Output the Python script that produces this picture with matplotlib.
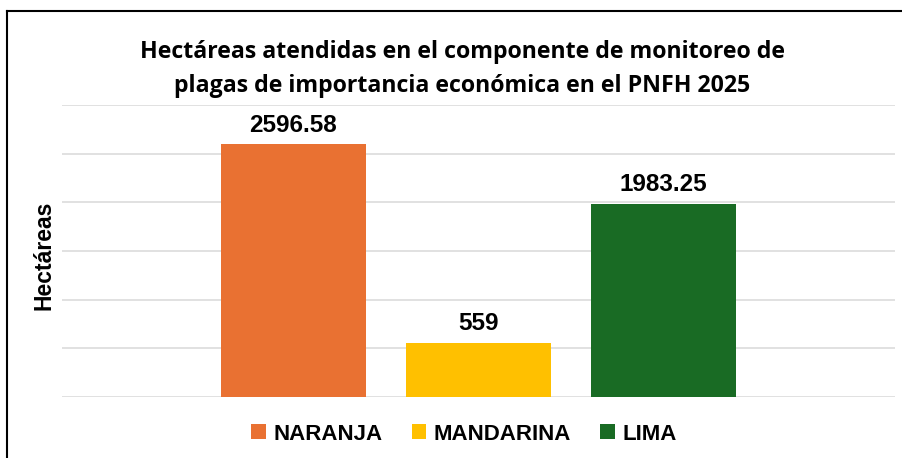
import matplotlib
matplotlib.use('Agg')
import matplotlib.pyplot as plt
from matplotlib.lines import Line2D
from matplotlib.patches import Patch

# data
categories = ['NARANJA', 'MANDARINA', 'LIMA']
hectareas = [2596.58, 559, 1983.25]
labels = ['2596.58', '559', '1983.25']
colors = ['#E97132', '#FFC000', '#196B24']

W, H = 902, 458
fig = plt.figure(figsize=(W / 100, H / 100), dpi=100)
ax = fig.add_axes([62 / W, 1 - 397 / H, (895 - 62) / W, (397 - 105) / H])

x = list(range(len(categories)))
ax.bar(x, hectareas, width=0.784, color=colors, zorder=2)

# value labels above bars
for xi, v, lab in zip(x, hectareas, labels):
    ax.annotate(lab, (xi, v), xytext=(0, 5.5), textcoords='offset points',
                ha='center', va='bottom', fontsize=17.5, fontweight='bold',
                family='Liberation Sans', color='#000000')

ax.set_xlim(-1.25, 3.25)
ax.set_ylim(0, 3000)
ax.set_yticks(range(0, 3001, 500))
ax.set_yticklabels([])
ax.set_xticks([])
ax.tick_params(length=0)
ax.yaxis.grid(True, color='#D9D9D9', linewidth=1.1, zorder=0)
for s in ax.spines.values():
    s.set_visible(False)

# y label
fig.text(44 / W, 1 - 255 / H, 'Hectáreas', rotation=90, ha='center', va='center',
         fontsize=16.5, fontweight='bold', family='Liberation Sans')

# title
fig.text(462 / W, 1 - 69 / H,
         'Hectáreas atendidas en el componente de monitoreo de\n'
         'plagas de importancia económica en el PNFH 2025',
         ha='center', va='center', fontsize=16.7, fontweight='bold',
         family='Open Sans', linespacing=1.55, color='#000000')

# legend
handles = [Patch(facecolor=c, edgecolor='none') for c in colors]
fig.legend(handles, categories, loc='center', bbox_to_anchor=(464 / W, 1 - 434 / H),
           ncol=3, frameon=False, handlelength=0.65, handleheight=0.65,
           handletextpad=0.35, columnspacing=1.3,
           prop={'family': 'Liberation Sans', 'weight': 'bold', 'size': 16})

# outer border (top and left visible)
fig.add_artist(Line2D([7.5 / W, 1], [1 - 10.5 / H, 1 - 10.5 / H], color='black', linewidth=1.5))
fig.add_artist(Line2D([7.5 / W, 7.5 / W], [0, 1 - 10.5 / H], color='black', linewidth=1.5))

fig.savefig('out.png', dpi=100)
